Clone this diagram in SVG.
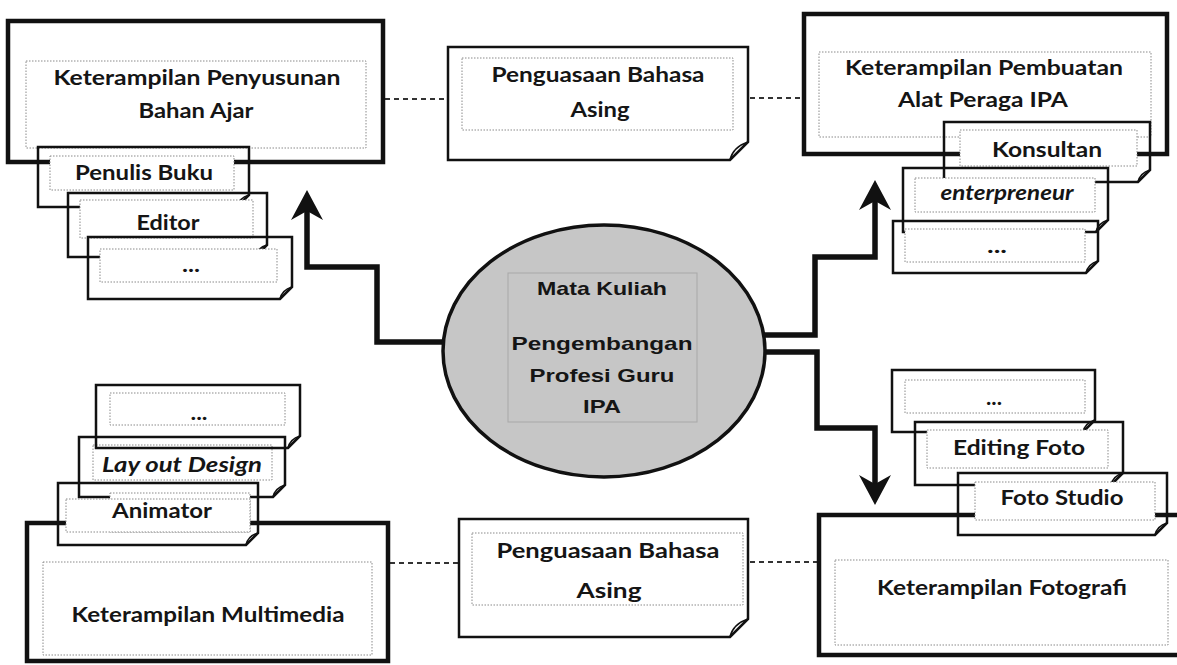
<svg xmlns="http://www.w3.org/2000/svg" width="1177" height="665" viewBox="0 0 1177 665">
<style>
.bg{fill:#ffffff}
.main{fill:#ffffff;stroke:#111;stroke-width:4.5}
.sub{fill:none;stroke:#111;stroke-width:2.5;stroke-linejoin:miter}
.curl{fill:none;stroke:#111;stroke-width:1.6}
.inner{fill:#ffffff;stroke:#8a8a8a;stroke-width:1;stroke-dasharray:1.5 1.5}
.innerT{fill:none;stroke:#8a8a8a;stroke-width:1;stroke-dasharray:1.5 1.5}
.t{font-family:Lato,"Liberation Sans",sans-serif;font-weight:bold;font-size:21px;fill:#151515;text-anchor:middle}
.it{font-style:italic}
.e{font-family:"Liberation Sans",Arial,sans-serif;font-weight:bold;font-size:19px;fill:#151515;text-anchor:middle}
.dash{fill:none;stroke:#333;stroke-width:2;stroke-dasharray:5 4}
.arrow{fill:none;stroke:#111;stroke-width:5.5;stroke-linejoin:miter}
</style>
<defs>
<marker id="ah" markerUnits="userSpaceOnUse" viewBox="-24 -18 34 36" markerWidth="34" markerHeight="36" refX="0" refY="0" orient="auto">
<path d="M8 0 L-22 -16 L-13 0 L-22 16 Z" fill="#111"/>
</marker>
</defs>
<rect class="bg" x="0" y="0" width="1177" height="665"/>

<g id="connectors">
<path class="dash" d="M385 99 H447"/>
<path class="dash" d="M750 98 H802"/>
<path class="dash" d="M390 563 H458"/>
<path class="dash" d="M750 562 H818"/>
<path class="arrow" d="M446 342 H377 V267 H307 V198" marker-end="url(#ah)"/>
<path class="arrow" d="M764 335 H815 V257 H875 V188" marker-end="url(#ah)"/>
<path class="arrow" d="M764 352 H817 V428 H875 V497" marker-end="url(#ah)"/>
</g>

<g id="center">
<ellipse cx="604" cy="351" rx="161" ry="126" fill="#c6c6c6" stroke="#111" stroke-width="3.5"/>
<rect x="508" y="273" width="189" height="149" fill="none" stroke="#a8a8a8" stroke-width="1"/>
<text class="e" x="602" y="295" textLength="130" lengthAdjust="spacingAndGlyphs">Mata Kuliah</text>
<text class="e" x="602" y="350" textLength="181" lengthAdjust="spacingAndGlyphs">Pengembangan</text>
<text class="e" x="602" y="382" textLength="145" lengthAdjust="spacingAndGlyphs">Profesi Guru</text>
<text class="e" x="602" y="413" textLength="38" lengthAdjust="spacingAndGlyphs">IPA</text>
</g>

<g id="bahan-ajar">
<rect class="main" x="8" y="21" width="375" height="141"/>
<rect class="innerT" x="26" y="61" width="340" height="87"/>
<text class="t" x="197" y="85" textLength="287" lengthAdjust="spacingAndGlyphs">Keterampilan Penyusunan</text>
<text class="t" x="196" y="118" textLength="115" lengthAdjust="spacingAndGlyphs">Bahan Ajar</text>
</g>
<g id="penulis-buku">
<path class="sub" d="M38 147 H249 V195 L237 207 H38 Z"/>
<path class="curl" d="M237 207 Q239 198 249 195"/>
<rect class="inner" x="50" y="156" width="184" height="34"/>
<text class="t" x="144" y="180" textLength="138" lengthAdjust="spacingAndGlyphs">Penulis Buku</text>
</g>
<g id="editor">
<path class="sub" d="M68 193 H267 V245 L255 257 H68 Z"/>
<path class="curl" d="M255 257 Q257 248 267 245"/>
<rect class="inner" x="80" y="200" width="173" height="38"/>
<text class="t" x="168" y="230" textLength="63" lengthAdjust="spacingAndGlyphs">Editor</text>
</g>
<g id="tl-more">
<path class="sub" d="M88 237 H292 V287 L280 299 H88 Z"/>
<path class="curl" d="M280 299 Q282 290 292 287"/>
<rect class="inner" x="100" y="249" width="177" height="33"/>
<text class="t" x="191" y="272" font-size="16" textLength="18" lengthAdjust="spacingAndGlyphs">...</text>
</g>

<g id="bahasa-top">
<path class="sub" d="M448 47 H748 V142 L730 160 H448 Z" fill="#fff"/>
<path class="curl" d="M730 160 Q733 147 748 142"/>
<rect class="innerT" x="462" y="58" width="271" height="72"/>
<text class="t" x="598" y="82" textLength="213" lengthAdjust="spacingAndGlyphs">Penguasaan Bahasa</text>
<text class="t" x="600" y="117" textLength="59" lengthAdjust="spacingAndGlyphs">Asing</text>
</g>

<g id="alat-peraga">
<rect class="main" x="804" y="14" width="363" height="140"/>
<rect class="innerT" x="819" y="52" width="332" height="85"/>
<text class="t" x="984" y="75" textLength="278" lengthAdjust="spacingAndGlyphs">Keterampilan Pembuatan</text>
<text class="t" x="983" y="107" textLength="170" lengthAdjust="spacingAndGlyphs">Alat Peraga IPA</text>
</g>
<g id="konsultan">
<path class="sub" d="M944 122 H1150 V170 L1138 182 H944 Z"/>
<path class="curl" d="M1138 182 Q1140 173 1150 170"/>
<rect class="inner" x="960" y="130" width="177" height="36"/>
<text class="t" x="1047" y="157" textLength="110" lengthAdjust="spacingAndGlyphs">Konsultan</text>
</g>
<g id="enterpreneur">
<path class="sub" d="M903 168 H1108 V220 L1096 232 H903 Z"/>
<path class="curl" d="M1096 232 Q1098 223 1108 220"/>
<rect class="inner" x="915" y="178" width="180" height="34"/>
<text class="t it" x="1007" y="200" textLength="133" lengthAdjust="spacingAndGlyphs">enterpreneur</text>
</g>
<g id="tr-more">
<path class="sub" d="M893 221 H1098 V261 L1086 273 H893 Z"/>
<path class="curl" d="M1086 273 Q1088 264 1098 261"/>
<rect class="inner" x="905" y="229" width="180" height="33"/>
<text class="t" x="997" y="253" font-size="16" textLength="20" lengthAdjust="spacingAndGlyphs">...</text>
</g>

<g id="multimedia">
<rect class="main" x="27" y="523" width="361" height="138"/>
<rect class="innerT" x="43" y="562" width="329" height="93"/>
<text class="t" x="208" y="622" textLength="273" lengthAdjust="spacingAndGlyphs">Keterampilan Multimedia</text>
</g>
<g id="layout-design">
<path class="sub" d="M79 437 H285 V485 L273 497 H79 Z"/>
<path class="curl" d="M273 497 Q275 488 285 485"/>
<rect class="inner" x="93" y="445" width="179" height="35"/>
<text class="t it" x="182" y="472" textLength="160" lengthAdjust="spacingAndGlyphs">Lay out Design</text>
</g>
<g id="bl-more">
<path class="sub" d="M96 385 H300 V436 L288 448 H96 Z"/>
<path class="curl" d="M288 448 Q290 439 300 436"/>
<rect class="inner" x="110" y="393" width="175" height="32"/>
<text class="t" x="199" y="420" font-size="16" textLength="17" lengthAdjust="spacingAndGlyphs">...</text>
</g>
<g id="animator">
<path class="sub" d="M58 483 H258 V533 L246 545 H58 Z"/>
<path class="curl" d="M246 545 Q248 536 258 533"/>
<rect class="inner" x="110" y="493" width="140" height="39" stroke="none"/>
<rect class="inner" x="66" y="499" width="184" height="33"/>
<text class="t" x="162" y="518" textLength="100" lengthAdjust="spacingAndGlyphs">Animator</text>
</g>

<g id="bahasa-bottom">
<path class="sub" d="M459 519 H748 V619 L730 637 H459 Z" fill="#fff"/>
<path class="curl" d="M730 637 Q733 624 748 619"/>
<rect class="innerT" x="472" y="533" width="271" height="72"/>
<text class="t" x="608" y="558" textLength="223" lengthAdjust="spacingAndGlyphs">Penguasaan Bahasa</text>
<text class="t" x="609" y="598" textLength="65" lengthAdjust="spacingAndGlyphs">Asing</text>
</g>

<g id="fotografi">
<rect class="main" x="819" y="515" width="370" height="140"/>
<rect class="innerT" x="835" y="560" width="333" height="85"/>
<text class="t" x="1002" y="595" textLength="250" lengthAdjust="spacingAndGlyphs">Keterampilan Fotografi</text>
</g>
<g id="br-more">
<path class="sub" d="M892 370 H1095 V420 L1083 432 H892 Z"/>
<path class="curl" d="M1083 432 Q1085 423 1095 420"/>
<rect class="inner" x="905" y="380" width="180" height="33"/>
<text class="t" x="994" y="405" font-size="16" textLength="16" lengthAdjust="spacingAndGlyphs">...</text>
</g>
<g id="editing-foto">
<path class="sub" d="M915 422 H1123 V473 L1111 485 H915 Z"/>
<path class="curl" d="M1111 485 Q1113 476 1123 473"/>
<rect class="inner" x="927" y="430" width="181" height="38"/>
<text class="t" x="1019" y="455" textLength="132" lengthAdjust="spacingAndGlyphs">Editing Foto</text>
</g>
<g id="foto-studio">
<path class="sub" d="M958 473 H1167 V523 L1155 535 H958 Z"/>
<path class="curl" d="M1155 535 Q1157 526 1167 523"/>
<rect class="inner" x="975" y="482" width="180" height="38"/>
<text class="t" x="1062" y="505" textLength="123" lengthAdjust="spacingAndGlyphs">Foto Studio</text>
</g>
</svg>
